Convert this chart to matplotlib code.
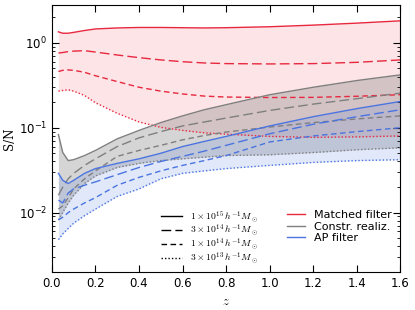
import matplotlib
matplotlib.use("Agg")
import matplotlib.pyplot as plt
from matplotlib.lines import Line2D
from matplotlib.font_manager import FontProperties

# redshift grid the curves were read at
z = [0.03, 0.05, 0.075, 0.1, 0.15, 0.2, 0.3, 0.4, 0.5, 0.6, 0.7, 0.8, 1.0, 1.2, 1.4, 1.6]

# Matched filter (masses 1e15, 3e14, 1e14, 3e13)
mf_1e15 = [1.35, 1.30, 1.30, 1.33, 1.40, 1.46, 1.50, 1.52, 1.52, 1.51, 1.50, 1.51, 1.55, 1.62, 1.71, 1.82]
mf_3e14 = [0.76, 0.77, 0.79, 0.80, 0.81, 0.78, 0.72, 0.67, 0.63, 0.60, 0.58, 0.57, 0.565, 0.57, 0.59, 0.63]
mf_1e14 = [0.46, 0.475, 0.48, 0.475, 0.45, 0.41, 0.35, 0.30, 0.27, 0.25, 0.236, 0.23, 0.227, 0.228, 0.235, 0.245]
mf_3e13 = [0.27, 0.275, 0.28, 0.27, 0.24, 0.197, 0.148, 0.117, 0.101, 0.093, 0.087, 0.084, 0.079, 0.077, 0.078, 0.080]

# Constrained realizations
cr_1e15 = [0.083, 0.051, 0.041, 0.042, 0.047, 0.054, 0.074, 0.093, 0.115, 0.138, 0.163, 0.187, 0.245, 0.30, 0.36, 0.42]
cr_3e14 = [0.016, 0.020, 0.025, 0.029, 0.036, 0.043, 0.060, 0.076, 0.090, 0.105, 0.117, 0.130, 0.160, 0.19, 0.22, 0.256]
cr_1e14 = [0.011, 0.012, 0.015, 0.019, 0.025, 0.031, 0.046, 0.054, 0.062, 0.072, 0.081, 0.089, 0.102, 0.115, 0.127, 0.138]
cr_3e13 = [0.0082, 0.010, 0.013, 0.016, 0.022, 0.027, 0.034, 0.038, 0.041, 0.043, 0.045, 0.047, 0.048, 0.051, 0.055, 0.058]

# AP filter
ap_1e15 = [0.029, 0.024, 0.022, 0.024, 0.029, 0.033, 0.038, 0.043, 0.050, 0.060, 0.069, 0.079, 0.105, 0.135, 0.168, 0.204]
ap_3e14 = [0.014, 0.013, 0.017, 0.019, 0.021, 0.023, 0.028, 0.034, 0.040, 0.046, 0.053, 0.062, 0.085, 0.11, 0.135, 0.163]
ap_1e14 = [0.0082, 0.0088, 0.010, 0.011, 0.013, 0.015, 0.021, 0.026, 0.031, 0.036, 0.041, 0.047, 0.068, 0.080, 0.090, 0.100]
ap_3e13 = [0.0048, 0.0056, 0.0065, 0.0075, 0.0092, 0.011, 0.0155, 0.019, 0.025, 0.029, 0.031, 0.033, 0.036, 0.039, 0.041, 0.042]

mass_labels = [r"$1\times10^{15}\,h^{-1}M_\odot$", r"$3\times10^{14}\,h^{-1}M_\odot$",
               r"$1\times10^{14}\,h^{-1}M_\odot$", r"$3\times10^{13}\,h^{-1}M_\odot$"]
method_labels = ["Matched filter", "Constr. realiz.", "AP filter"]

styles = ["-", (0, (7, 3)), (0, (4, 2.5)), (0, (1, 1.5))]
red, grey, blue = "#e8283f", "#7f7f7f", "#4a74e0"

fig, ax = plt.subplots(figsize=(4.15, 3.1), dpi=100)
fig.subplots_adjust(left=0.125, right=0.965, top=0.984, bottom=0.123)

groups = [(red, [mf_1e15, mf_3e14, mf_1e14, mf_3e13], 0.12),
          (grey, [cr_1e15, cr_3e14, cr_1e14, cr_3e13], 0.32),
          (blue, [ap_1e15, ap_3e14, ap_1e14, ap_3e13], 0.16)]
for col, curves, a in groups:
    ax.fill_between(z, curves[0], curves[3], color=col, alpha=a, lw=0)
    for c, ls in zip(curves, styles):
        ax.plot(z, c, color=col, ls=ls, lw=1.0)

ax.set_yscale("log")
ax.set_xlim(0, 1.6)
ax.set_ylim(2e-3, 2.8)
ax.tick_params(which="both", direction="in", top=True, right=True, labelsize=8.5)
ax.tick_params(which="major", length=5)
ax.tick_params(which="minor", length=2.5)

cm = FontProperties(size=7, math_fontfamily="cm")
ax.set_xlabel("$z$", fontproperties=FontProperties(size=9, math_fontfamily="cm"))
ax.set_ylabel("S/N", family="DejaVu Serif", fontsize=8.5, labelpad=2)

h1 = [Line2D([], [], color="k", ls=ls, lw=1.0) for ls in styles]
leg1 = ax.legend(h1, mass_labels, prop=cm, frameon=False, loc="upper left",
                 bbox_to_anchor=(0.29, 0.265), handlelength=2.2, labelspacing=-0.15,
                 borderpad=0.3)
ax.add_artist(leg1)
h2 = [Line2D([], [], color=c, lw=1.0) for c in (red, grey, blue)]
ax.legend(h2, method_labels, fontsize=8, frameon=False, loc="upper left",
          bbox_to_anchor=(0.65, 0.265), handlelength=1.6, labelspacing=0.15,
          borderpad=0.3)

fig.savefig("out.png", dpi=100)
